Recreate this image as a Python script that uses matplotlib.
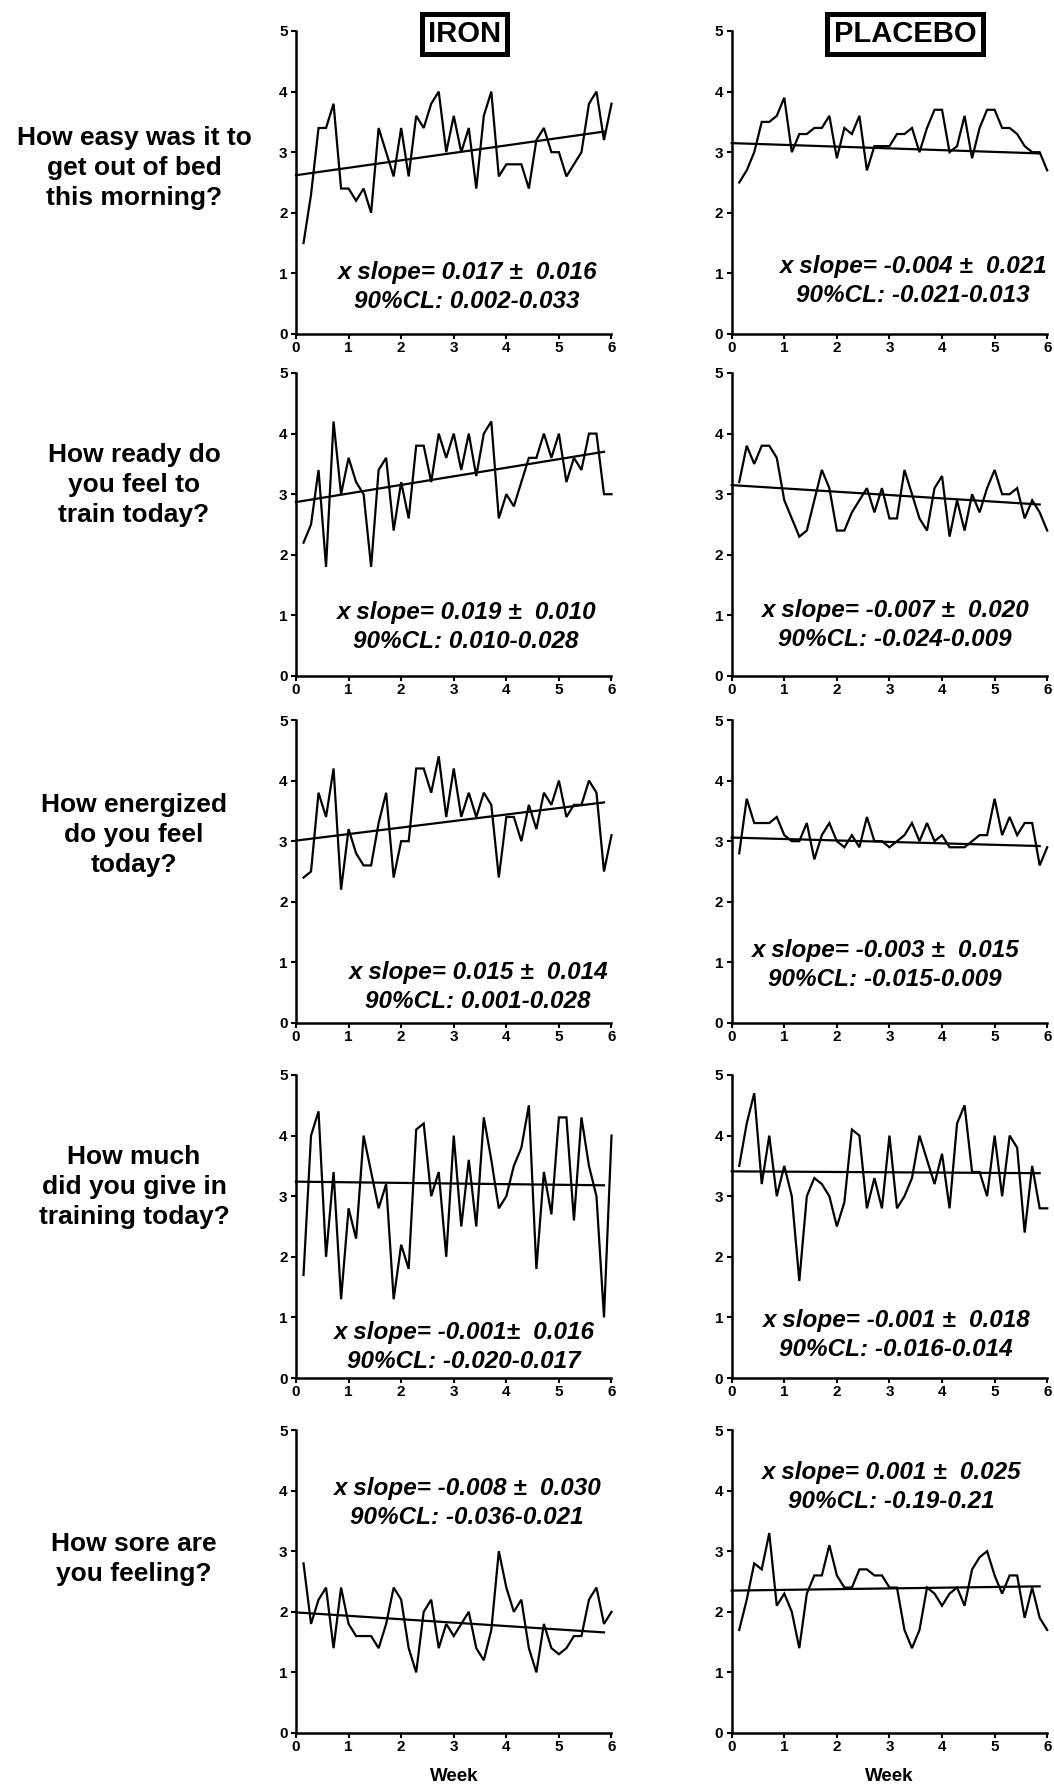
import numpy as np
import matplotlib
matplotlib.use("Agg")
import matplotlib.pyplot as plt

plt.rcParams['font.family'] = ['Liberation Sans', 'DejaVu Sans']

# ---------------- data ----------------
days = np.arange(1, 43) / 7.0          # 42 daily points, in weeks
trend_x = [0.0, 41 / 7.0]

questions = [
    "How easy was it to\nget out of bed\nthis morning?",
    "How ready do\nyou feel to\ntrain today?",
    "How energized\ndo you feel\ntoday?",
    "How much\ndid you give in\ntraining today?",
    "How sore are\nyou feeling?",
]
groups = ["IRON", "PLACEBO"]

iron_bed = [1.5, 2.3, 3.4, 3.4, 3.8, 2.4, 2.4, 2.2, 2.4, 2.0,
            3.4, 3.0, 2.6, 3.4, 2.6, 3.6, 3.4, 3.8, 4.0, 3.0,
            3.6, 3.0, 3.4, 2.4, 3.6, 4.0, 2.6, 2.8, 2.8, 2.8,
            2.4, 3.2, 3.4, 3.0, 3.0, 2.6, 2.8, 3.0, 3.8, 4.0,
            3.2, 3.8]
placebo_bed = [2.5, 2.7, 3.0, 3.5, 3.5, 3.6, 3.9, 3.0, 3.3, 3.3,
               3.4, 3.4, 3.6, 2.9, 3.4, 3.3, 3.6, 2.7, 3.1, 3.1,
               3.1, 3.3, 3.3, 3.4, 3.0, 3.4, 3.7, 3.7, 3.0, 3.1,
               3.6, 2.9, 3.4, 3.7, 3.7, 3.4, 3.4, 3.3, 3.1, 3.0,
               3.0, 2.7]
iron_ready = [2.2, 2.5, 3.4, 1.8, 4.2, 3.0, 3.6, 3.2, 3.0, 1.8,
              3.4, 3.6, 2.4, 3.2, 2.6, 3.8, 3.8, 3.2, 4.0, 3.6,
              4.0, 3.4, 4.0, 3.3, 4.0, 4.2, 2.6, 3.0, 2.8, 3.2,
              3.6, 3.6, 4.0, 3.6, 4.0, 3.2, 3.6, 3.4, 4.0, 4.0,
              3.0, 3.0]
placebo_ready = [3.2, 3.8, 3.5, 3.8, 3.8, 3.6, 2.9, 2.6, 2.3, 2.4,
                 2.9, 3.4, 3.1, 2.4, 2.4, 2.7, 2.9, 3.1, 2.7, 3.1,
                 2.6, 2.6, 3.4, 3.0, 2.6, 2.4, 3.1, 3.3, 2.3, 2.9,
                 2.4, 3.0, 2.7, 3.1, 3.4, 3.0, 3.0, 3.1, 2.6, 2.9,
                 2.7, 2.4]
iron_energy = [2.4, 2.5, 3.8, 3.4, 4.2, 2.2, 3.2, 2.8, 2.6, 2.6,
               3.3, 3.8, 2.4, 3.0, 3.0, 4.2, 4.2, 3.8, 4.4, 3.4,
               4.2, 3.4, 3.8, 3.4, 3.8, 3.6, 2.4, 3.4, 3.4, 3.0,
               3.6, 3.2, 3.8, 3.6, 4.0, 3.4, 3.6, 3.6, 4.0, 3.8,
               2.5, 3.1]
placebo_energy = [2.8, 3.7, 3.3, 3.3, 3.3, 3.4, 3.1, 3.0, 3.0, 3.3,
                  2.7, 3.1, 3.3, 3.0, 2.9, 3.1, 2.9, 3.4, 3.0, 3.0,
                  2.9, 3.0, 3.1, 3.3, 3.0, 3.3, 3.0, 3.1, 2.9, 2.9,
                  2.9, 3.0, 3.1, 3.1, 3.7, 3.1, 3.4, 3.1, 3.3, 3.3,
                  2.6, 2.9]
iron_give = [1.7, 4.0, 4.4, 2.0, 3.4, 1.3, 2.8, 2.3, 4.0, 3.4,
             2.8, 3.2, 1.3, 2.2, 1.8, 4.1, 4.2, 3.0, 3.4, 2.0,
             4.0, 2.5, 3.6, 2.5, 4.3, 3.6, 2.8, 3.0, 3.5, 3.8,
             4.5, 1.8, 3.4, 2.7, 4.3, 4.3, 2.6, 4.3, 3.5, 3.0,
             1.0, 4.0]
placebo_give = [3.5, 4.2, 4.7, 3.2, 4.0, 3.0, 3.5, 3.0, 1.6, 3.0,
                3.3, 3.2, 3.0, 2.5, 2.9, 4.1, 4.0, 2.8, 3.3, 2.8,
                4.0, 2.8, 3.0, 3.3, 4.0, 3.6, 3.2, 3.7, 2.8, 4.2,
                4.5, 3.4, 3.4, 3.0, 4.0, 3.0, 4.0, 3.8, 2.4, 3.5,
                2.8, 2.8]
iron_sore = [2.8, 1.8, 2.2, 2.4, 1.4, 2.4, 1.8, 1.6, 1.6, 1.6,
             1.4, 1.8, 2.4, 2.2, 1.4, 1.0, 2.0, 2.2, 1.4, 1.8,
             1.6, 1.8, 2.0, 1.4, 1.2, 1.7, 3.0, 2.4, 2.0, 2.2,
             1.4, 1.0, 1.8, 1.4, 1.3, 1.4, 1.6, 1.6, 2.2, 2.4,
             1.8, 2.0]
placebo_sore = [1.7, 2.2, 2.8, 2.7, 3.3, 2.1, 2.3, 2.0, 1.4, 2.3,
                2.6, 2.6, 3.1, 2.6, 2.4, 2.4, 2.7, 2.7, 2.6, 2.6,
                2.4, 2.4, 1.7, 1.4, 1.7, 2.4, 2.3, 2.1, 2.3, 2.4,
                2.1, 2.7, 2.9, 3.0, 2.6, 2.3, 2.6, 2.6, 1.9, 2.4,
                1.9, 1.7]

series = [[iron_bed, placebo_bed],
          [iron_ready, placebo_ready],
          [iron_energy, placebo_energy],
          [iron_give, placebo_give],
          [iron_sore, placebo_sore]]

# regression line values at start (week 0) and end (day 41)
trend_start = [[2.62, 3.15], [2.87, 3.15], [3.01, 3.06], [3.24, 3.41], [1.99, 2.35]]
trend_end = [[3.34, 2.98], [3.70, 2.83], [3.64, 2.92], [3.18, 3.38], [1.66, 2.42]]

slope_text = [["x slope= 0.017 \u00b1  0.016", "x slope= -0.004 \u00b1  0.021"],
              ["x slope= 0.019 \u00b1  0.010", "x slope= -0.007 \u00b1  0.020"],
              ["x slope= 0.015 \u00b1  0.014", "x slope= -0.003 \u00b1  0.015"],
              ["x slope= -0.001\u00b1  0.016", "x slope= -0.001 \u00b1  0.018"],
              ["x slope= -0.008 \u00b1  0.030", "x slope= 0.001 \u00b1  0.025"]]
cl_text = [["90%CL: 0.002-0.033", "90%CL: -0.021-0.013"],
           ["90%CL: 0.010-0.028", "90%CL: -0.024-0.009"],
           ["90%CL: 0.001-0.028", "90%CL: -0.015-0.009"],
           ["90%CL: -0.020-0.017", "90%CL: -0.016-0.014"],
           ["90%CL: -0.036-0.021", "90%CL: -0.19-0.21"]]

xticks = [0, 1, 2, 3, 4, 5, 6]
yticks = [0, 1, 2, 3, 4, 5]

# ---------------- layout (pixels) ----------------
W, H = 1054, 1788
col_left = [296, 731.7]
col_width = 315.5
row_top = [31, 373, 720, 1075, 1430]
row_h = 303
# annotation centre positions (px): x, y of first line
ann_pos = [[(467, 272), (913, 266)],
           [(466, 612), (895, 610)],
           [(478, 972), (885, 950)],
           [(464, 1333), (896, 1320)],
           [(467, 1488), (891, 1473)]]
ann_gap = 29
label_y = [168, 485, 835, 1187, 1559]

fig = plt.figure(figsize=(W / 100, H / 100), dpi=100)

for r in range(5):
    for c in range(2):
        ax = fig.add_axes([col_left[c] / W, 1 - (row_top[r] + row_h) / H,
                           col_width / W, row_h / H])
        ax.plot(days, series[r][c], color='black', lw=1.6, clip_on=False,
                solid_joinstyle='miter')
        ax.plot(trend_x, [trend_start[r][c], trend_end[r][c]], color='black',
                lw=1.6, clip_on=False)
        ax.set_xlim(0, 6)
        ax.set_ylim(0, 5)
        ax.set_xticks(xticks)
        ax.set_yticks(yticks)
        for s in ['top', 'right']:
            ax.spines[s].set_visible(False)
        for s in ['left', 'bottom']:
            ax.spines[s].set_linewidth(1.8)
        ax.tick_params(axis='both', width=1.5, length=3.5, labelsize=11,
                       pad=2.5, direction='out')
        ax.tick_params(axis='x', pad=1.5)
        for lab in ax.get_xticklabels() + ax.get_yticklabels():
            lab.set_fontweight('bold')
        if r == 4:
            ax.set_xlabel("Week", fontsize=13.5, fontweight='bold', labelpad=10)
        x0, y0 = ann_pos[r][c]
        fig.text(x0 / W, 1 - y0 / H, slope_text[r][c], ha='center', va='center',
                 fontsize=17.5, fontweight='bold', fontstyle='italic')
        fig.text(x0 / W, 1 - (y0 + ann_gap) / H, cl_text[r][c], ha='center',
                 va='center', fontsize=17.5, fontweight='bold', fontstyle='italic')

for r in range(5):
    fig.text(134 / W, 1 - label_y[r] / H, questions[r], ha='center', va='center',
             fontsize=19, fontweight='bold', linespacing=1.34)

title_x = [464.5, 905]
for c in range(2):
    fig.text(title_x[c] / W, 1 - 34 / H, groups[c], ha='center', va='center',
             fontsize=21, fontweight='bold',
             bbox=dict(boxstyle='square,pad=0.22', fc='white', ec='black', lw=3.6))

fig.savefig("out.png", dpi=100)
